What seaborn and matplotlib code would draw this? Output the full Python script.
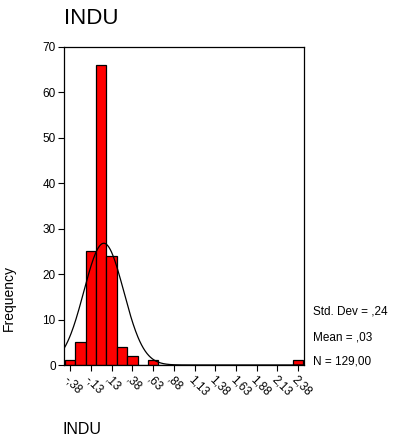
import numpy as np
import pandas as pd
import matplotlib
matplotlib.use("Agg")
import matplotlib.pyplot as plt
import seaborn as sns

# Data
bin_centers = [-0.375, -0.25, -0.125, 0.0, 0.125, 0.25, 0.375, 0.5, 0.625,
               0.75, 0.875, 1.0, 1.125, 1.25, 1.375, 1.5, 1.625, 1.75, 1.875,
               2.0, 2.125, 2.25, 2.375]
counts = [1, 5, 25, 66, 24, 4, 2, 0, 1,
          0, 0, 0, 0, 0, 0, 0, 0, 0, 0,
          0, 0, 0, 1]
tick_values = [-0.375, -0.125, 0.125, 0.375, 0.625, 0.875, 1.125, 1.375,
               1.625, 1.875, 2.125, 2.375]
tick_labels = ["-,38", "-,13", ",13", ",38", ",63", ",88", "1,13", "1,38",
               "1,63", "1,88", "2,13", "2,38"]
y_ticks = [0, 10, 20, 30, 40, 50, 60, 70]
std_dev = 0.24
mean = 0.03
n_total = 129
bin_width = 0.125

sns.set_theme(style="white")
plt.rcParams['font.family'] = ['Liberation Sans', 'DejaVu Sans']
plt.rcParams['text.color'] = 'black'
plt.rcParams['xtick.color'] = 'black'
plt.rcParams['ytick.color'] = 'black'
plt.rcParams['axes.labelcolor'] = 'black'

fig = plt.figure(figsize=(3.96, 4.42), dpi=100)
ax = fig.add_axes([0.1616, 0.1742, 0.606, 0.7195])

df = pd.DataFrame({"INDU": bin_centers, "count": counts})
sns.histplot(data=df, x="INDU", weights="count", binwidth=bin_width,
             binrange=(-0.4375, 2.4375), ax=ax,
             color="#ff0000", edgecolor="black", linewidth=0.9, alpha=1)

xs = np.linspace(-0.45, 2.445, 400)
ys = n_total * bin_width * np.exp(-0.5 * ((xs - mean) / std_dev) ** 2) / (std_dev * np.sqrt(2 * np.pi))
sns.lineplot(x=xs, y=ys, ax=ax, color="black", linewidth=0.9)

ax.set_xlim(-0.45, 2.445)
ax.set_ylim(0, 70)
ax.set_yticks(y_ticks)
ax.set_yticklabels([str(v) for v in y_ticks], fontsize=8.5, color="black")
ax.set_xticks(tick_values)
ax.set_xticklabels(tick_labels, rotation=-45, ha="left", va="top",
                   rotation_mode="anchor", fontsize=8.5, color="black")
ax.tick_params(axis="both", direction="out", length=4, width=0.8,
               color="black", bottom=True, left=True, pad=2)
ax.set_xlabel("")
ax.set_ylabel("")
for s in ax.spines.values():
    s.set_visible(True)
    s.set_color("black")
    s.set_linewidth(0.9)

fig.text(64 / 396, 1 - 18 / 442, "INDU", fontsize=16, ha="left", va="center",
         color="black")
fig.text(63 / 396, 1 - 430 / 442, "INDU", fontsize=11.5, ha="left",
         va="center", color="black")
fig.text(9 / 396, 1 - 298 / 442, "Frequency", fontsize=10, rotation=90,
         ha="center", va="center", color="black")
for i, t in enumerate(["Std. Dev = ,24", "Mean = ,03", "N = 129,00"]):
    fig.text(313 / 396, 1 - (312 + 25 * i) / 442, t, fontsize=8.5,
             ha="left", va="center", color="black")

fig.savefig("out.png", dpi=100)
